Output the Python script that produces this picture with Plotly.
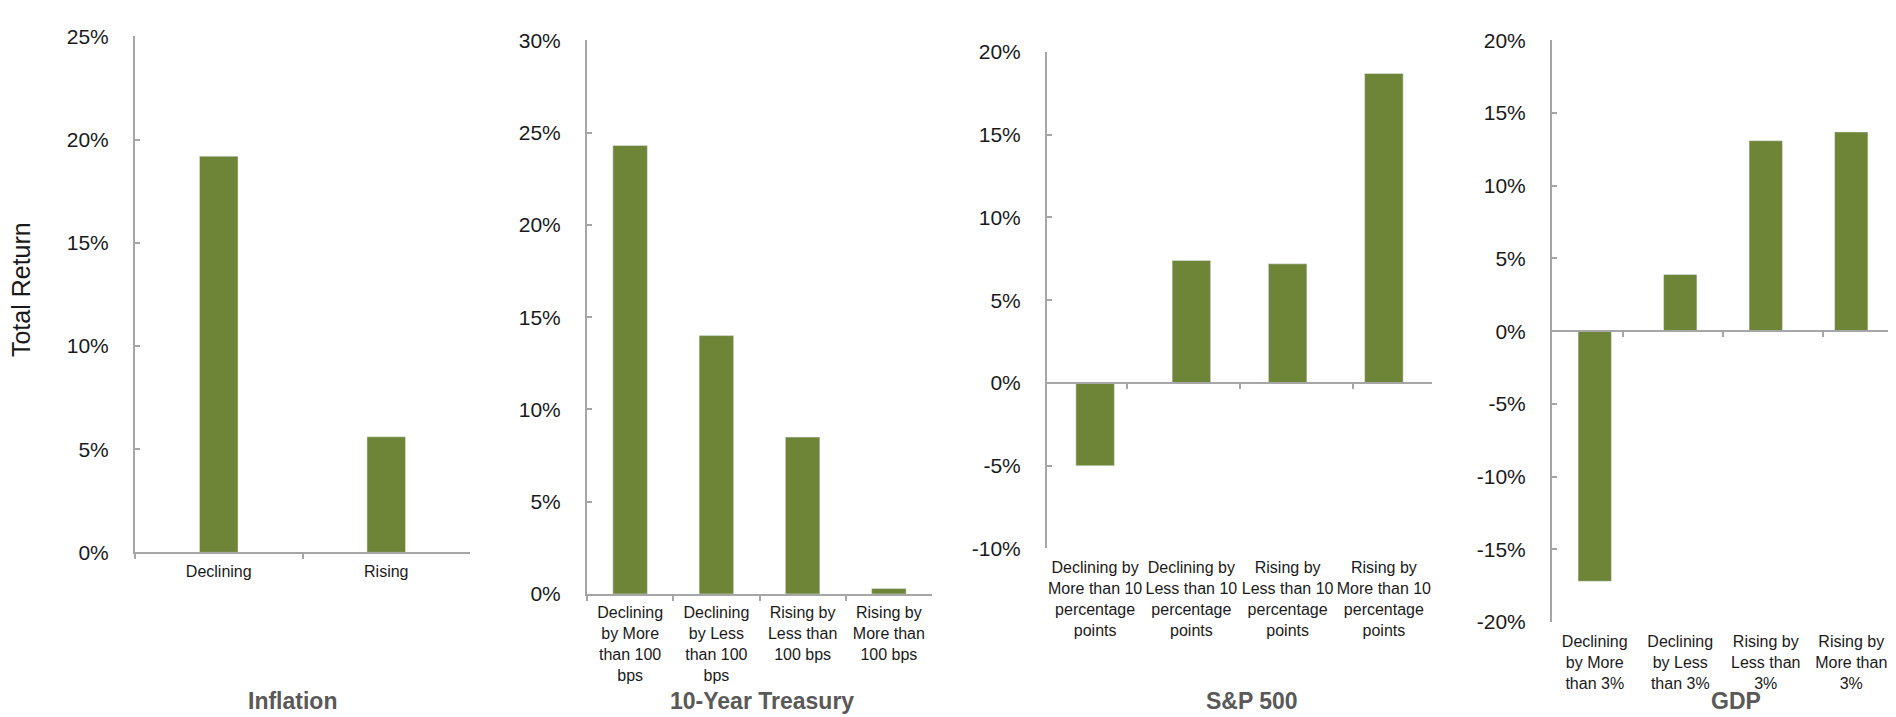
import plotly.graph_objects as go

W, H = 1896, 717

# total return (%) by regime
inflation_cats = ["Declining", "Rising"]
inflation_vals = [19.2, 5.6]

treasury_cats = ["Declining<br>by More<br>than 100<br>bps", "Declining<br>by Less<br>than 100<br>bps",
                 "Rising by<br>Less than<br>100 bps", "Rising by<br>More than<br>100 bps"]
treasury_vals = [24.3, 14.0, 8.5, 0.3]

sp500_cats = ["Declining by<br>More than 10<br>percentage<br>points", "Declining by<br>Less than 10<br>percentage<br>points",
              "Rising by<br>Less than 10<br>percentage<br>points", "Rising by<br>More than 10<br>percentage<br>points"]
sp500_vals = [-5.0, 7.4, 7.2, 18.7]

gdp_cats = ["Declining<br>by More<br>than 3%", "Declining<br>by Less<br>than 3%",
            "Rising by<br>Less than<br>3%", "Rising by<br>More than<br>3%"]
gdp_vals = [-17.2, 3.9, 13.1, 13.7]

panel_titles = ["Inflation", "10-Year Treasury", "S&P 500", "GDP"]
y_ranges = [[0, 25], [0, 30], [-10, 20], [-20, 20]]

BAR_COLOR = "#6E8436"
AXIS_COLOR = "#A6A6A6"
TITLE_COLOR = "#595959"
TEXT_COLOR = "#1A1A1A"
FONT = "Arial, Liberation Sans, sans-serif"

# plot boxes in pixels (left, top, right, bottom)
boxes = [(127, 17, 462, 550), (579, 21, 924, 593), (1039, 33, 1424, 546), (1544, 21, 1886, 622)]
bar_widths = [0.23, 0.4, 0.4, 0.39]
title_x = [284, 754, 1244, 1728]
title_y = 704

panels = [(inflation_cats, inflation_vals), (treasury_cats, treasury_vals),
          (sp500_cats, sp500_vals), (gdp_cats, gdp_vals)]

fig = go.Figure()
layout = {}

for i, (cats, vals) in enumerate(panels):
    n = i + 1
    sfx = "" if n == 1 else str(n)
    xa, ya = "x" + sfx, "y" + sfx
    left, top, right, bottom = boxes[i]
    xdom = [left / W, right / W]
    ydom = [1 - bottom / H, 1 - top / H]
    yr = y_ranges[i]

    fig.add_trace(go.Bar(x=cats, y=vals, xaxis=xa, yaxis=ya, width=bar_widths[i],
                         marker_color=BAR_COLOR, showlegend=False))

    ticks = list(range(yr[0], yr[1] + 1, 5))
    layout["yaxis" + sfx] = dict(domain=ydom, anchor=xa, range=yr, tickvals=ticks,
                                 ticktext=[f"{t}%" for t in ticks], showline=True, linecolor=AXIS_COLOR,
                                 linewidth=2, ticks="inside", ticklen=5, tickwidth=2, tickcolor=AXIS_COLOR,
                                 showgrid=False, zeroline=False, ticklabelstandoff=20,
                                 tickfont=dict(size=21, color=TEXT_COLOR, family=FONT))

    xbase = dict(domain=xdom, anchor=ya, type="category", categoryarray=cats, tickangle=0,
                 showgrid=False, zeroline=False,
                 tickfont=dict(size=16, color=TEXT_COLOR, family=FONT))
    if yr[0] == 0:
        # category axis sits on the 0% line
        xbase.update(showline=True, linecolor=AXIS_COLOR, linewidth=2, ticks="outside",
                     tickson="boundaries", ticklen=5, tickwidth=2, tickcolor=AXIS_COLOR,
                     ticklabelstandoff=3)
        layout["xaxis" + sfx] = xbase
    else:
        # labels stay at the bottom, the axis line is drawn at 0% by an overlaid axis
        xbase.update(showline=False, ticks="", ticklabelstandoff=8)
        layout["xaxis" + sfx] = xbase
        zero_pos = ydom[0] + (0 - yr[0]) / (yr[1] - yr[0]) * (ydom[1] - ydom[0])
        ov = str(n + 4)
        layout["xaxis" + ov] = dict(overlaying=xa, anchor="free", position=zero_pos, type="category",
                                    categoryarray=cats, showline=True, linecolor=AXIS_COLOR, linewidth=2,
                                    ticks="outside", tickson="boundaries", ticklen=5, tickwidth=2,
                                    tickcolor=AXIS_COLOR, showticklabels=False, showgrid=False, zeroline=False)
        fig.add_trace(go.Scatter(x=cats, y=vals, xaxis="x" + ov, yaxis=ya, mode="markers",
                                 marker=dict(opacity=0), hoverinfo="skip", showlegend=False))

annotations = [dict(text="Total Return", x=13 / W, y=1 - 279 / H, xref="paper", yref="paper",
                    xanchor="center", yanchor="middle", textangle=-90, showarrow=False,
                    font=dict(size=25, color=TEXT_COLOR, family=FONT))]
for t, tx in zip(panel_titles, title_x):
    annotations.append(dict(text="<b>" + t + "</b>", x=tx / W, y=1 - title_y / H, xref="paper", yref="paper",
                            xanchor="center", yanchor="middle", showarrow=False,
                            font=dict(size=23, color=TITLE_COLOR, family=FONT)))

fig.update_layout(width=W, height=H, margin=dict(l=0, r=0, t=0, b=0),
                  paper_bgcolor="white", plot_bgcolor="white", annotations=annotations, **layout)

fig.write_html("out.html")
